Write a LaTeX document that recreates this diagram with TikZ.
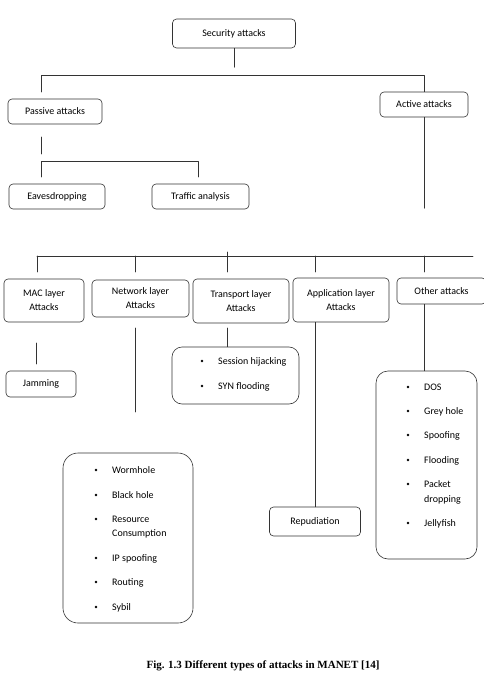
\documentclass[tikz,border=0pt]{standalone}
\usepackage{fontspec}
\setmainfont{Carlito}
\newfontfamily\capfont{Liberation Serif}
\begin{document}
\begin{tikzpicture}[x=1pt,y=-1pt,line join=round,line cap=round,font=\fontsize{10}{14}\selectfont,
  box/.style={draw=black!80,line width=0.6pt,rounded corners=4pt,align=center,inner sep=0pt},
  listbox/.style={draw=black!80,line width=0.6pt,rounded corners=12pt,inner sep=0pt},
  entry/.style={anchor=base west,inner sep=0pt},
  conn/.style={draw=black!80,line width=0.6pt}]
\useasboundingbox (0,0) rectangle (483,690);
% boxes
\node[box,minimum width=123,minimum height=29] (sec) at (234,33.5) {Security attacks};
\node[box,minimum width=94,minimum height=25] (pas) at (55,111.5) {Passive attacks};
\node[box,minimum width=88,minimum height=25] (act) at (424,104.5) {Active attacks};
\node[box,minimum width=96,minimum height=25] (eav) at (57,196.5) {Eavesdropping};
\node[box,minimum width=97,minimum height=25] (tra) at (200.5,196.5) {Traffic analysis};
\node[box,minimum width=80,minimum height=43] (mac) at (44,300.5) {MAC layer\\Attacks};
\node[box,minimum width=97,minimum height=37] (net) at (140.5,298.5) {Network layer\\Attacks};
\node[box,minimum width=96,minimum height=44] (trn) at (241,301) {Transport layer\\Attacks};
\node[box,minimum width=96,minimum height=44] (app) at (341,300) {Application layer\\Attacks};
\node[box,minimum width=89,minimum height=26] (oth) at (441.5,291) {Other attacks};
\node[box,minimum width=70,minimum height=26] (jam) at (41,384) {Jamming};
\node[box,minimum width=91,minimum height=29] (rep) at (315,521.5) {Repudiation};
\node[listbox,minimum width=127,minimum height=57,rounded corners=10pt] (sess) at (235.5,375.5) {};
\node[listbox,minimum width=130,minimum height=170,rounded corners=15pt] (nlist) at (128,538) {};
\node[listbox,minimum width=101,minimum height=188] (olist) at (426.5,465) {};

% list entries
\foreach \t/\y [count=\i] in {Session hijacking/361,SYN flooding/386}
  \node[entry] (s\i) at (218,\y+3.5) {\t};
\foreach \t/\y [count=\i] in {Wormhole/470,Black hole/495,Resource/519,Consumption/533,IP spoofing/558,Routing/582,Sybil/607}
  \node[entry] (n\i) at (112,\y+3.5) {\t};
\foreach \t/\y [count=\i] in {DOS/387,Grey hole/411,Spoofing/435,Flooding/460,Packet/484,dropping/499,Jellyfish/523}
  \node[entry] (o\i) at (424,\y+3.5) {\t};
\foreach \y in {361,386} \fill (202,\y) circle (1.4pt);
\foreach \y in {470,495,519,558,582,607} \fill (96,\y) circle (1.4pt);
\foreach \y in {387,411,435,460,484,523} \fill (408,\y) circle (1.4pt);

% connectors
\coordinate (t1) at (41,92);
\coordinate (p1) at (41,137);
\coordinate (e1) at (41,177);
\coordinate (e2) at (198,177);
\coordinate (b1) at (37,256);
\coordinate (b2) at (473,256);
\draw[conn] (sec.south) -- ++(0,19);
\draw[conn] (t1) -- ++(0,-17) -| (act.north);
\draw[conn] (p1) -- ++(0,17);
\draw[conn] (e1) |- (198,161) -- (e2);
\draw[conn] (act.south) -- ++(0,91);
\draw[conn] (b1) -- (b2) (227,252) -- (227,256);
\foreach \x in {37,135,227,315,424}
  \draw[conn] (\x,256) -- (\x,272);
\draw[conn] (36,343) -- (36,364);
\draw[conn] (135,328) -- (135,412);
\draw[conn] (227,328) -- (sess.north -| 227,0);
\draw[conn] (app.south -| rep.north) -- (rep.north);
\draw[conn] (oth.south -| 424,0) -- (olist.north -| 424,0);

% caption
\node[font=\capfont\bfseries\fontsize{11}{13}\selectfont] (cap) at (263,666) {Fig. 1.3 Different types of attacks in MANET [14]};
\end{tikzpicture}
\end{document}
